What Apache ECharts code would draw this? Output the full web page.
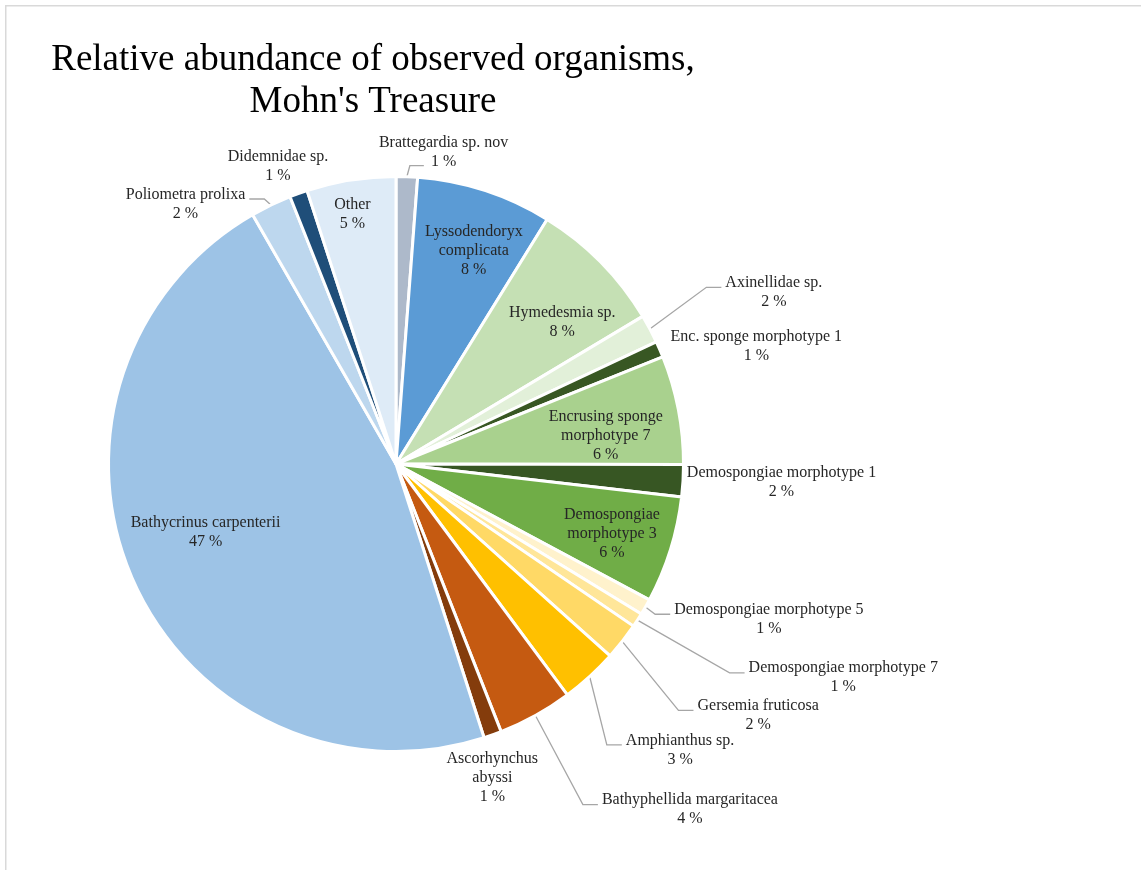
<!DOCTYPE html>
<html>
<head>
<meta charset="utf-8">
<title>Relative abundance of observed organisms, Mohn's Treasure</title>
<script src="https://cdn.jsdelivr.net/npm/echarts@6/dist/echarts.min.js"></script>
<style>
  html, body { margin: 0; padding: 0; background: #ffffff; }
  #chart { width: 1141px; height: 870px; }
</style>
</head>
<body>
<div id="chart"></div>
<script>
// ---- data -------------------------------------------------------------
const titleLines = ['Relative abundance of observed organisms,', "Mohn's Treasure"];

const categories = [
  'Brattegardia sp. nov',
  'Lyssodendoryx complicata',
  'Hymedesmia sp.',
  'Axinellidae sp.',
  'Enc. sponge morphotype 1',
  'Encrusing sponge morphotype 7',
  'Demospongiae morphotype 1',
  'Demospongiae morphotype 3',
  'Demospongiae morphotype 5',
  'Demospongiae morphotype 7',
  'Gersemia fruticosa',
  'Amphianthus sp.',
  'Bathyphellida margaritacea',
  'Ascorhynchus abyssi',
  'Bathycrinus carpenterii',
  'Poliometra prolixa',
  'Didemnidae sp.',
  'Other'
];

// share of all observations, in percent
const shares = [1.2, 7.6, 7.6, 1.6, 0.9, 6.1, 1.8, 6.0, 0.9, 0.8, 2.1, 3.2, 4.2, 1.0, 46.6, 2.3, 1.0, 5.0];

// ---- styling ----------------------------------------------------------
const sliceColors = [
  '#adb9ca', '#5b9bd5', '#c5e0b4', '#e2f0d9', '#385723', '#a9d18e',
  '#375623', '#70ad47', '#fff2cc', '#ffe699', '#ffd966', '#ffc000',
  '#c55a11', '#843c0c', '#9dc3e6', '#bdd7ee', '#1f4e79', '#deebf7'
];

// how long names are broken over lines in their labels
const wrappedNames = {
  'Lyssodendoryx complicata': ['Lyssodendoryx', 'complicata'],
  'Encrusing sponge morphotype 7': ['Encrusing sponge', 'morphotype 7'],
  'Demospongiae morphotype 3': ['Demospongiae', 'morphotype 3'],
  'Ascorhynchus abyssi': ['Ascorhynchus', 'abyssi']
};

// label placement: inside labels are nudged from the slice's mid-radius point,
// outside labels from the point where the slice's mid-angle meets the rim
const labelPlacement = {
  'Brattegardia sp. nov':          { offset: [36.7, -24.2], bend: [3, -11], tail: 14 },
  'Lyssodendoryx complicata':      { inside: true, offset: [33.3, -76.3] },
  'Hymedesmia sp.':                { inside: true, offset: [63.9, -40.3] },
  'Axinellidae sp.':               { offset: [124, -36.6] },
  'Enc. sponge morphotype 1':      { offset: [96.7, -2.9], noLeader: true },
  'Encrusing sponge morphotype 7': { inside: true, offset: [68.6, -1.5] },
  'Demospongiae morphotype 1':     { offset: [98.5, 1.9], noLeader: true },
  'Demospongiae morphotype 3':     { inside: true, offset: [78.8, 27.2] },
  'Demospongiae morphotype 5':     { offset: [123.4, 12.3] },
  'Demospongiae morphotype 7':     { offset: [205.8, 57.7] },
  'Gersemia fruticosa':            { offset: [135.9, 74] },
  'Amphianthus sp.':               { offset: [90.4, 73.3] },
  'Bathyphellida margaritacea':    { offset: [154.5, 94.2] },
  'Ascorhynchus abyssi':           { offset: [-0.3, 43.3], noLeader: true },
  'Bathycrinus carpenterii':       { inside: true, offset: [-59, 10.6] },
  'Poliometra prolixa':            { offset: [-85.5, -1.1] },
  'Didemnidae sp.':                { offset: [-20.5, -27.4], noLeader: true },
  'Other':                         { inside: true, offset: [-21.1, -107.3] }
};

const PIE_CENTER = [396, 464];
const PIE_RADIUS = 287.5;
const SERIF = '"Liberation Serif", "Times New Roman", serif';
const LABEL_COLOR = '#262626';

// ---- chart ------------------------------------------------------------
const chart = echarts.init(document.getElementById('chart'), null, { renderer: 'canvas' });

const pieData = categories.map(function (name, i) {
  const place = labelPlacement[name];
  return {
    name: name,
    value: shares[i],
    itemStyle: { color: sliceColors[i] },
    label: { position: place.inside ? 'inside' : 'outside' }
  };
});

function labelText(params) {
  const lines = (wrappedNames[params.name] || [params.name]).slice();
  lines.push(Math.round(params.percent) + ' %');
  return lines.map(function (l) { return '{c|' + l + '}'; }).join('\n');
}

function placeLabel(p) {
  const place = labelPlacement[categories[p.dataIndex]];
  const w = p.labelRect.width;
  const h = p.labelRect.height;
  if (place.inside) {
    const vx = p.labelRect.x + w / 2 - PIE_CENTER[0];
    const vy = p.labelRect.y + h / 2 - PIE_CENTER[1];
    const len = Math.sqrt(vx * vx + vy * vy) || 1;
    const bx = PIE_CENTER[0] + vx / len * PIE_RADIUS / 2;
    const by = PIE_CENTER[1] + vy / len * PIE_RADIUS / 2;
    return { x: bx + place.offset[0], y: by + place.offset[1], align: 'center', verticalAlign: 'middle' };
  }
  if (!p.labelLinePoints) { return {}; }
  const p1 = p.labelLinePoints[0];
  const cx = p1[0] + place.offset[0];
  const cy = p1[1] + place.offset[1];
  let pts;
  if (place.noLeader) {
    pts = [p1, p1, p1];
  } else if (place.bend) {
    const p2 = [p1[0] + place.bend[0], p1[1] + place.bend[1]];
    pts = [p1, p2, [p2[0] + place.tail, p2[1]]];
  } else {
    const side = cx > p1[0] ? -1 : 1;
    const p3 = [cx + side * (w / 2 + 4), cy - 5];
    const p2 = [p3[0] + side * 15, p3[1]];
    pts = [p1, p2, p3];
  }
  return { x: cx, y: cy, align: 'center', verticalAlign: 'middle', labelLinePoints: pts };
}

const option = {
  backgroundColor: '#ffffff',
  animation: false,
  graphic: [
    {
      type: 'rect',
      silent: true,
      shape: { x: 5.75, y: 5.75, width: 2000, height: 2000 },
      style: { fill: 'none', stroke: '#d9d9d9', lineWidth: 1.5 }
    },
    {
      type: 'text',
      silent: true,
      x: 373,
      y: 39,
      style: {
        text: titleLines.join('\n'),
        font: '37px ' + SERIF,
        fill: '#000000',
        align: 'center',
        verticalAlign: 'top',
        lineHeight: 42
      }
    }
  ],
  series: [
    {
      type: 'pie',
      center: PIE_CENTER,
      radius: PIE_RADIUS,
      startAngle: 90,
      clockwise: true,
      avoidLabelOverlap: false,
      emphasis: { disabled: true },
      itemStyle: { borderColor: '#ffffff', borderWidth: 3 },
      label: {
        show: true,
        formatter: labelText,
        color: LABEL_COLOR,
        fontFamily: SERIF,
        fontSize: 16,
        lineHeight: 19,
        rich: {
          c: { align: 'center', color: LABEL_COLOR, fontFamily: SERIF, fontSize: 16, lineHeight: 19 }
        }
      },
      labelLine: {
        show: true,
        length: 10,
        length2: 10,
        lineStyle: { color: '#a6a6a6', width: 1.3 }
      },
      labelLayout: placeLabel,
      data: pieData
    }
  ]
};

chart.setOption(option);
</script>
</body>
</html>
